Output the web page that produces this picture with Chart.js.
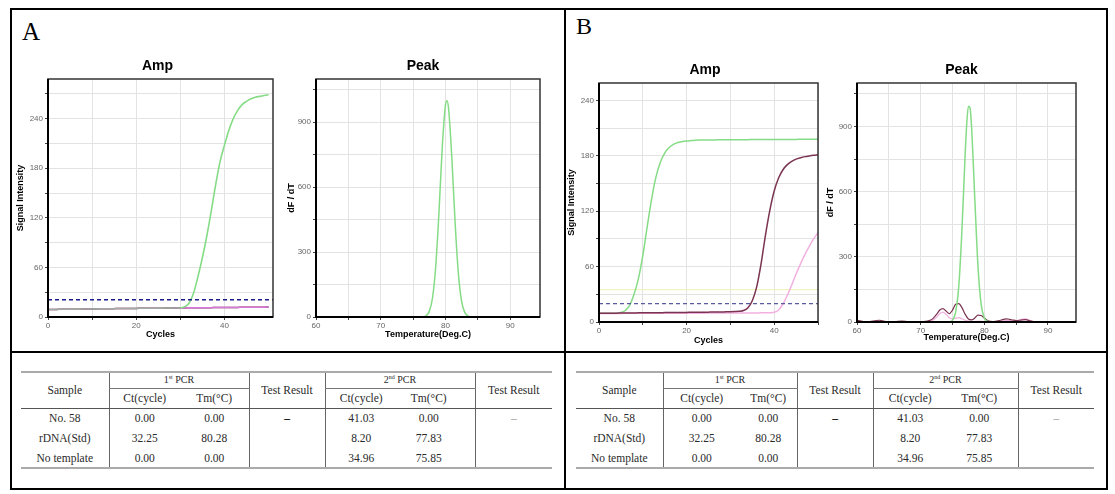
<!DOCTYPE html>
<html><head><meta charset="utf-8">
<script src="https://cdn.jsdelivr.net/npm/chart.js@4.4.0/dist/chart.umd.min.js"></script>
<style>
html,body{margin:0;padding:0;background:#fff;}
body{width:1115px;height:494px;position:relative;overflow:hidden;}
.ln{position:absolute;background:#000;}
canvas{position:absolute;}
.letter{position:absolute;font-family:"Liberation Serif","Times New Roman",serif;font-size:24px;line-height:1;color:#000;}
table.res{position:absolute;border-collapse:collapse;table-layout:fixed;font-family:"Liberation Serif","Times New Roman",serif;font-size:11.5px;color:#2a2a2a;}
table.res td{text-align:center;vertical-align:middle;padding:0;white-space:nowrap;line-height:12px;}
table.res td.top{border-top:2px solid #aaa;}
table.res tr.bot td{border-bottom:2px solid #aaa;}
table.res td.sub{border-bottom:1px solid #777;font-size:10px;}
table.res td.hb{border-bottom:1px solid #555;}
table.res sup{font-size:6px;vertical-align:4px;line-height:0;}
</style>
</head><body>
<div class="ln" style="left:10px;top:8px;width:1098px;height:2px"></div>
<div class="ln" style="left:10px;top:488px;width:1098px;height:2px"></div>
<div class="ln" style="left:10px;top:8px;width:2px;height:482px"></div>
<div class="ln" style="left:1106px;top:8px;width:2px;height:482px"></div>
<div class="ln" style="left:564px;top:8px;width:2px;height:482px"></div>
<div class="ln" style="left:10px;top:351px;width:1098px;height:2px"></div>
<div class="letter" style="left:22px;top:19px;font-size:25px">A</div>
<div class="letter" style="left:576px;top:14px">B</div>
<canvas id="ampA" width="272" height="295" style="left:10px;top:50px"></canvas>
<canvas id="peakA" width="270" height="295" style="left:280px;top:50px"></canvas>
<canvas id="ampB" width="262" height="300" style="left:566px;top:50px"></canvas>
<canvas id="peakB" width="262" height="300" style="left:825px;top:50px"></canvas>
<script>
// ---------------- DATA ----------------
const ampCycles = [0,1,2,3,4,5,6,7,8,9,10,11,12,13,14,15,16,17,18,19,20,21,22,23,24,25,26,27,28,29,30,31,32,33,34,35,36,37,38,39,40,41,42,43,44,45,46,47,48,49,50];

// Panel A, amplification (1st PCR)
const ampA_rDNA = [9.0,9.1,9.2,9.3,9.3,9.4,9.5,9.5,9.6,9.7,9.8,9.8,9.9,10.0,10.0,10.1,10.2,10.2,10.3,10.4,10.4,10.5,10.5,10.6,10.6,10.7,10.7,10.8,10.8,10.9,11.0,
  12.5,17,29,49,72,98,128,160,188,208,226,240,250,257,261,264,266,267,268,269];
const ampA_no58 = [9.0,9.1,9.2,9.3,9.3,9.4,9.5,9.5,9.6,9.7,9.8,9.8,9.9,10.0,10.0,10.1,10.2,10.2,10.3,10.4,10.4,10.5,10.5,10.6,10.6,10.7,10.7,10.8,10.8,10.9,11.0,
  11.0,11.1,11.1,11.2,11.2,11.3,11.3,11.4,11.4,11.5,11.5,11.6,11.6,11.7,11.7,11.8,11.8,11.9,11.9,12.0];
const ampA_noTemplate = [9.0,9.1,9.2,9.3,9.3,9.4,9.5,9.5,9.6,9.7,9.8,9.8,9.9,10.0,10.0,10.1,10.2,10.2,10.3,10.4,10.4,10.5,10.5,10.6,10.6,10.7,10.7,10.8,10.8,10.9,11.0,
  11.0,11.1,11.1,11.2,11.2,11.3,11.3,11.4,11.4,11.5,11.5,11.6,11.6,11.7,11.7,11.8,11.8,11.9,11.9,12.0];
const thresholdA = [21];

// Panel B, amplification (2nd PCR)
const ampB_rDNA = [9.4,9.4,9.5,9.5,9.6,10.2,12.5,18,30,47,72,103,133,157,173,183,189,192.5,194.5,195.5,196.2,196.6,196.9,
  197.1,197.2,197.3,197.3,197.4,197.4,197.5,197.5,197.5,197.6,197.6,197.6,197.7,197.7,197.7,197.8,197.8,197.8,197.8,197.9,197.9,197.9,197.9,198,198,198,198,198];
const ampB_noTemplate = [9.4,9.5,9.5,9.6,9.6,9.7,9.7,9.8,9.8,9.9,9.9,10.0,10.0,10.1,10.1,10.2,10.2,10.3,10.3,10.4,10.4,10.5,10.5,10.6,10.6,10.7,10.8,10.8,10.9,11.0,11.1,11.3,11.6,12.4,
  15.5,23,38,63,94,121,142,156,165,170.5,174,176.5,178,179.2,180,180.6,181];
const ampB_no58 = [9.3,9.3,9.3,9.3,9.3,9.3,9.4,9.4,9.4,9.4,9.4,9.4,9.5,9.5,9.5,9.5,9.5,9.5,9.5,9.6,9.6,9.6,9.6,9.6,9.6,9.7,9.7,9.7,9.7,9.7,9.7,9.8,9.8,9.8,9.8,9.8,9.8,9.9,9.9,10.0,
  10.5,13,19.5,29,40,52,63,73,82,90,97];
const thresholdB = [20];
const secondLineB = [35];

// Panel A, melting peak
const peakA_temps = [60,76,76.5,77,77.5,78,78.5,79,79.5,80,80.25,80.5,81,81.5,82,82.5,83,83.5,84,95];
const peakA_rDNA  = [0,0,1,6,26,89,236,487,783,980,999,956,726,430,198,71,20,4,0,0];

// Panel B, melting peak
const peakB_greenTemps = [60,74,74.5,75,75.5,76,76.5,77,77.25,77.5,77.75,78,78.5,79,79.5,80,80.5,81,95];
const peakB_rDNA       = [0,0,1,9,47,170,433,780,919,993,985,895,570,258,82,18,3,0,0];
const peakB_temps = [60,60.5,61,61.5,62,62.5,63,63.5,64,64.5,65,66,67,68,69,70,70.5,71,71.5,72,72.5,73,73.5,74,74.5,75,75.5,76,76.5,77,77.5,78,78.5,79,79.5,80,80.5,81,81.5,82,82.5,83,83.5,84,84.5,85,85.5,86,86.5,87,87.5,88,89,90,92,94];
const peakB_noTemplate = [8,5,2,1,2,4,7,8,5,2,1,2,4,2,1,1,2,4,8,18,35,55,62,50,38,55,82,85,65,35,14,10,18,32,30,18,7,3,2,4,8,12,14,12,9,7,8,10,11,7,3,1,0,0,0,0];
const peakB_no58       = [0,1,2,2,1,1,2,3,2,1,0,1,1,1,0,1,1,2,4,10,22,38,45,35,20,14,18,20,15,8,4,2,2,3,3,2,1,1,1,2,3,5,6,6,5,6,9,13,14,9,4,1,0,0,0,0];

// Tables
const headerTop = ['Sample','1<sup>st</sup> PCR','Test Result','2<sup>nd</sup> PCR','Test Result'];
const headerSub = ['Ct(cycle)','Tm(°C)','Ct(cycle)','Tm(°C)'];
const sampleNames = ['No. 58','rDNA(Std)','No template'];
const firstCt  = ['0.00','32.25','0.00'];
const firstTm  = ['0.00','80.28','0.00'];
const secondCt = ['41.03','8.20','34.96'];
const secondTm = ['0.00','77.83','75.85'];
const testResults = ['–','–'];

// ---------------- CHARTS ----------------
const GREEN_BLEND = 'rgba(110,220,110,0.5)';
const GREEN_B = '#86dc86';
const PINK = '#d878d8';
const PINK_B = '#f2b0e0';
const MAROON = '#7a3350';

function xy(xs, ys){ return xs.map((x,i)=>({x:x,y:ys[i]})); }
function flat(v, x0, x1){ return [{x:x0,y:v},{x:x1,y:v}]; }

const frameTitle = {
  id:'frameTitle',
  afterDatasetsDraw(chart, args, o){
    const {ctx, chartArea:a} = chart;
    ctx.save();
    ctx.strokeStyle = '#333'; ctx.lineWidth = 1.5;
    ctx.strokeRect(a.left, a.top, a.right-a.left, a.bottom-a.top);
    ctx.strokeStyle = '#000'; ctx.lineWidth = 2;
    ctx.beginPath(); ctx.moveTo(a.left, a.top); ctx.lineTo(a.left, a.bottom); ctx.lineTo(a.right, a.bottom); ctx.stroke();
    ctx.fillStyle = '#000';
    ctx.font = 'bold 14px "Liberation Sans", Arial, sans-serif';
    ctx.textAlign = 'center'; ctx.textBaseline = 'middle';
    ctx.fillText(o.text, (a.left+a.right)/2 + o.dx, a.top + o.dy);
    ctx.restore();
  }
};

function ds(data, color, width, order, dash){
  return {data:data, borderColor:color, borderWidth:width, pointRadius:0, fill:false,
          cubicInterpolationMode:'monotone', borderDash:dash||[], order:order};
}

function makeChart(id, cfg){
  const tickFont = {family:'"Liberation Sans", Arial, sans-serif', size:8};
  const titleFont = {family:'"Liberation Sans", Arial, sans-serif', size:9, weight:'bold'};
  new Chart(document.getElementById(id), {
    type:'line',
    data:{datasets:cfg.datasets},
    options:{
      responsive:false, animation:false, devicePixelRatio:1,
      layout:{padding:{left:0, top:cfg.ctop, right:cfg.rpad, bottom:0}},
      plugins:{legend:{display:false}, tooltip:{enabled:false}, title:{display:false},
               frameTitle:{text:cfg.title, dx:cfg.tdx, dy:cfg.tdy}},
      scales:{
        x:{type:'linear', min:cfg.xmin, max:cfg.xmax,
           afterBuildTicks:s=>{ s.ticks = s.ticks.filter(t=>Math.abs(t.value/cfg.xstep - Math.round(t.value/cfg.xstep))<1e-6); },
           afterFit:s=>{ s.height = cfg.xH; },
           ticks:{stepSize:cfg.xstep, autoSkip:false, maxRotation:0, padding:1, color:'#666', font:tickFont,
                  callback:v=> (Math.round(v) % cfg.xlab === 0 ? String(v) : '')},
           grid:{color:'#e3e3e3', lineWidth:1, tickLength:3, tickColor:'#444'},
           border:{display:false},
           title:{display:true, text:cfg.xTitle, color:'#000', font:titleFont, padding:{top:0,bottom:cfg.xpb}}},
        y:{type:'linear', min:0, max:cfg.ymax,
           afterBuildTicks:s=>{ s.ticks = s.ticks.filter(t=>Math.abs(t.value/cfg.ystep - Math.round(t.value/cfg.ystep))<1e-6); },
           afterFit:s=>{ s.width = cfg.yW; },
           ticks:{stepSize:cfg.ystep, autoSkip:false, padding:2, color:'#666', font:tickFont,
                  callback:v=> (Math.round(v) % cfg.ylab === 0 ? String(v) : '')},
           grid:{color:'#e3e3e3', lineWidth:1, tickLength:3, tickColor:'#444'},
           border:{display:false},
           title:{display:true, text:cfg.yTitle, color:'#000', font:titleFont, padding:{top:cfg.ypt,bottom:0}}}
      }
    },
    plugins:[frameTitle]
  });
}

// green overlapping the flat lines is drawn semi-transparent, opaque once it rises
const greenA = ds(xy(ampCycles, ampA_rDNA), GREEN_B, 1.6, 1);
greenA.segment = {borderColor: c => (c.p1.parsed.y < 12 ? GREEN_BLEND : GREEN_B)};

makeChart('ampA', {
  title:'Amp', tdx:-3, tdy:-13, ctop:29, rpad:9, xH:28, yW:38,
  xmin:0, xmax:51, xstep:10, xlab:20, ymax:288, ystep:30, ylab:60,
  xTitle:'Cycles', yTitle:'Signal Intensity', xpb:4.6, ypt:5.3,
  datasets:[
    ds(flat(thresholdA[0],0,51), '#1a1a8a', 1.5, 0, [4,3]),
    greenA,
    ds(xy(ampCycles, ampA_no58), PINK, 1.5, 2),
    ds(xy(ampCycles, ampA_noTemplate), MAROON, 1.5, 3)
  ]
});

makeChart('peakA', {
  title:'Peak', tdx:-5, tdy:-13, ctop:29, rpad:10, xH:28, yW:36,
  xmin:60, xmax:94.6, xstep:5, xlab:10, ymax:1100, ystep:150, ylab:300,
  xTitle:'Temperature(Deg.C)', yTitle:'dF / dT', xpb:4.6, ypt:6.3,
  datasets:[
    ds(xy(peakA_temps, peakA_rDNA), GREEN_B, 1.5, 0)
  ]
});

makeChart('ampB', {
  title:'Amp', tdx:-3.5, tdy:-13, ctop:33, rpad:10, xH:28, yW:33,
  xmin:0, xmax:50, xstep:10, xlab:20, ymax:259, ystep:30, ylab:60,
  xTitle:'Cycles', yTitle:'Signal Intensity', xpb:3.9, ypt:0.3,
  datasets:[
    ds(flat(thresholdB[0],0,50), '#5a5aa0', 1.2, 0, [4,3]),
    ds(flat(secondLineB[0],0,50), '#eeeeb0', 1, 5),
    ds(xy(ampCycles, ampB_noTemplate), MAROON, 1.5, 1),
    ds(xy(ampCycles, ampB_no58), PINK_B, 1.5, 2),
    ds(xy(ampCycles, ampB_rDNA), GREEN_B, 1.5, 3)
  ]
});

makeChart('peakB', {
  title:'Peak', tdx:-5, tdy:-13, ctop:33, rpad:11, xH:28, yW:32,
  xmin:60, xmax:94.4, xstep:5, xlab:10, ymax:1100, ystep:150, ylab:300,
  xTitle:'Temperature(Deg.C)', yTitle:'dF / dT', xpb:6.6, ypt:0.6,
  datasets:[
    ds(xy(peakB_greenTemps, peakB_rDNA), GREEN_B, 1.5, 0),
    ds(xy(peakB_temps, peakB_noTemplate), MAROON, 1.2, 1),
    ds(xy(peakB_temps, peakB_no58), PINK_B, 1.2, 2)
  ]
});

// ---------------- TABLES ----------------
function buildTable(left, top, widths, tmPad){
  const V = 'border-left:1px solid #666;';
  let h = '<colgroup>' + widths.map(w=>'<col style="width:'+w+'px">').join('') + '</colgroup>';
  h += '<tr style="height:16px">'
     + '<td rowspan="2" class="top hb">'+headerTop[0]+'</td>'
     + '<td colspan="2" class="top sub" style="'+V+'">'+headerTop[1]+'</td>'
     + '<td rowspan="2" class="top hb" style="'+V+'">'+headerTop[2]+'</td>'
     + '<td colspan="2" class="top sub" style="'+V+'">'+headerTop[3]+'</td>'
     + '<td rowspan="2" class="top hb" style="'+V+'">'+headerTop[4]+'</td></tr>';
  h += '<tr style="height:20px">'
     + '<td class="hb" style="'+V+'">'+headerSub[0]+'</td>'
     + '<td class="hb">'+headerSub[1]+'</td>'
     + '<td class="hb" style="'+V+'">'+headerSub[2]+'</td>'
     + '<td class="hb" style="padding-right:'+tmPad+'px">'+headerSub[3]+'</td></tr>';
  for (let i=0;i<sampleNames.length;i++){
    const last = i===sampleNames.length-1;
    h += '<tr style="height:20px"'+(last?' class="bot"':'')+'>'
       + '<td>'+sampleNames[i]+'</td>'
       + '<td style="'+V+'">'+firstCt[i]+'</td>'
       + '<td>'+firstTm[i]+'</td>'
       + '<td style="'+V+'font-weight:bold;color:#111">'+(i===0?testResults[0]:'')+'</td>'
       + '<td style="'+V+'">'+secondCt[i]+'</td>'
       + '<td style="padding-right:'+tmPad+'px">'+secondTm[i]+'</td>'
       + '<td style="'+V+'color:#999">'+(i===0?testResults[1]:'')+'</td></tr>';
  }
  const t = document.createElement('table');
  t.className = 'res';
  t.style.left = left+'px'; t.style.top = top+'px';
  t.innerHTML = h;
  document.body.appendChild(t);
}
buildTable(21, 371, [88,71,69,76,72,78,77], 14);
buildTable(576, 371, [87,77,57,76,74,71,76], 6);
</script>
</body></html>
